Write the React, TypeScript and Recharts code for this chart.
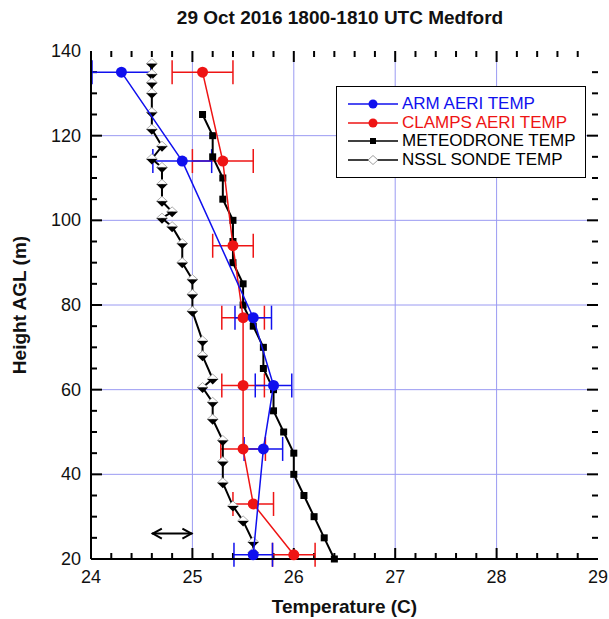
import {
  ScatterChart,
  Scatter,
  XAxis,
  YAxis,
  ErrorBar,
  ReferenceLine,
  Legend,
  Label,
} from "recharts";

const FONT = '"Liberation Sans", Arial, Helvetica, sans-serif';
const BLUE = "#1010ee";
const RED = "#ee1414";
const GRID = "#9a9af2";

// ARM AERI retrieval (temperature C, height m, +/- C)
const armTemp = [24.3, 24.9, 25.6, 25.8, 25.7, 25.6];
const armHeight = [135, 114, 77, 61, 46, 21];
const armErr = [0.29, 0.29, 0.18, 0.18, 0.19, 0.19];

// CLAMPS AERI retrieval
const clampsTemp = [25.1, 25.3, 25.4, 25.5, 25.5, 25.5, 25.6, 26.0];
const clampsHeight = [135, 114, 94, 77, 61, 46, 33, 21];
const clampsErr = [0.3, 0.3, 0.2, 0.21, 0.21, 0.22, 0.2, 0.21];

// meteodrone profile
const droneHeight = [125, 120, 115, 110, 105, 100, 95, 90, 85, 80, 75, 70, 65, 60, 55, 50, 45, 40, 35, 30, 25, 20];
const droneTemp = [25.1, 25.2, 25.2, 25.3, 25.3, 25.4, 25.4, 25.4, 25.5, 25.5, 25.6, 25.7, 25.7, 25.8, 25.8, 25.9, 26.0, 26.0, 26.1, 26.2, 26.3, 26.4];

// NSSL sonde profile
const sondeHeight = [137, 134.5, 132.5, 130, 125.5, 121.5, 117.5, 114.5, 112.5, 108.5, 104.5, 102, 100.5, 98.5, 94.5, 90, 86, 82.5, 78.5, 71.5, 68, 62.5, 60.5, 57, 53, 48, 43, 38, 32.5, 29, 24, 21.5];
const sondeTemp = [24.6, 24.6, 24.6, 24.6, 24.6, 24.6, 24.7, 24.6, 24.7, 24.7, 24.7, 24.8, 24.7, 24.8, 24.9, 24.9, 25.0, 25.0, 25.0, 25.1, 25.1, 25.2, 25.1, 25.2, 25.2, 25.3, 25.3, 25.3, 25.4, 25.5, 25.6, 25.6];

// axes
const tempTicks = [24, 25, 26, 27, 28, 29];
const tempMinorTicks = [24.2, 24.4, 24.6, 24.8, 25.2, 25.4, 25.6, 25.8, 26.2, 26.4, 26.6, 26.8, 27.2, 27.4, 27.6, 27.8, 28.2, 28.4, 28.6, 28.8];
const heightTicks = [20, 40, 60, 80, 100, 120, 140];
const heightMinorTicks = [25, 30, 35, 45, 50, 55, 65, 70, 75, 85, 90, 95, 105, 110, 115, 125, 130, 135];
const gridTemps = [25, 26, 27, 28];
const gridHeights = [40, 60, 80, 100, 120];

// the +/- arrow drawn near the bottom left
const arrowSpan = [24.6, 25.0];
const arrowHeight = 26;

const arm = armHeight.map((h, i) => ({ t: armTemp[i], h, err: armErr[i] }));
const clamps = clampsHeight.map((h, i) => ({ t: clampsTemp[i], h, err: clampsErr[i] }));
const drone = droneHeight.map((h, i) => ({ t: droneTemp[i], h }));
const sonde = sondeHeight.map((h, i) => ({ t: sondeTemp[i], h }));

const legendItems = [
  { name: "ARM AERI TEMP", color: BLUE, mark: "circle" },
  { name: "CLAMPS AERI TEMP", color: RED, mark: "circle" },
  { name: "METEODRONE TEMP", color: "#000", mark: "square" },
  { name: "NSSL SONDE TEMP", color: "#000", mark: "diamond" },
];

const AXIS_LINE = { stroke: "#000", strokeWidth: 2 };

function Dot({ cx, cy, fill }: any) {
  return <circle cx={cx} cy={cy} r={5.5} fill={fill} />;
}

function Square({ cx, cy }: any) {
  return <rect x={cx - 3.5} y={cy - 3.5} width={7} height={7} fill="#000" />;
}

function SondeMark({ cx, cy }: any) {
  return (
    <g>
      <path d={`M${cx - 5.5},${cy} L${cx},${cy - 5} L${cx + 5.5},${cy} Z`} fill="#fff" stroke="#999" strokeWidth={0.8} />
      <path d={`M${cx - 5.5},${cy} L${cx + 5.5},${cy} L${cx},${cy + 5.5} Z`} fill="#000" />
    </g>
  );
}

function DoubleArrow({ x1, y1, x2, y2 }: any) {
  return (
    <g stroke="#000" strokeWidth={2} fill="none">
      <line x1={x1} y1={y1} x2={x2} y2={y2} />
      <polyline points={`${x1 + 10},${y1 - 5} ${x1 + 1},${y1} ${x1 + 10},${y1 + 5}`} />
      <polyline points={`${x2 - 10},${y2 - 5} ${x2 - 1},${y2} ${x2 - 10},${y2 + 5}`} />
    </g>
  );
}

// a vertical reference line drawn as: optional grid line + inward ticks on the bottom and top frame
const vMark = (len: number, grid: boolean) => (p: any) => {
  const top = Math.min(p.y1, p.y2);
  const bot = Math.max(p.y1, p.y2);
  return (
    <g>
      {grid && <line x1={p.x1} y1={top} x2={p.x1} y2={bot} stroke={GRID} strokeWidth={1} />}
      <line x1={p.x1} y1={bot} x2={p.x1} y2={bot - len} stroke="#000" strokeWidth={2} />
      <line x1={p.x1} y1={top} x2={p.x1} y2={top + len} stroke="#000" strokeWidth={2} />
    </g>
  );
};

// same for horizontal lines: ticks on the left and right frame
const hMark = (len: number, grid: boolean) => (p: any) => {
  const left = Math.min(p.x1, p.x2);
  const right = Math.max(p.x1, p.x2);
  return (
    <g>
      {grid && <line x1={left} y1={p.y1} x2={right} y2={p.y1} stroke={GRID} strokeWidth={1} />}
      <line x1={left} y1={p.y1} x2={left + len} y2={p.y1} stroke="#000" strokeWidth={2} />
      <line x1={right} y1={p.y1} x2={right - len} y2={p.y1} stroke="#000" strokeWidth={2} />
    </g>
  );
};

function BottomLabel({ x, y, payload }: any) {
  return (
    <text x={x} y={y + 24} textAnchor="middle" fontSize={18} fontFamily={FONT} fill="#111">
      {payload.value}
    </text>
  );
}

function LeftLabel({ x, y, payload }: any) {
  return (
    <text x={x - 10} y={y + 6} textAnchor="end" fontSize={18} fontFamily={FONT} fill="#111">
      {payload.value}
    </text>
  );
}

function LegendMark({ mark, color }: { mark: string; color: string }) {
  return (
    <svg width={52} height={14} style={{ display: "block" }}>
      <line x1={1} y1={7} x2={51} y2={7} stroke={color} strokeWidth={1.5} />
      {mark === "circle" && <circle cx={26} cy={7} r={4.5} fill={color} />}
      {mark === "square" && <rect x={23} y={4} width={6} height={6} fill="#000" />}
      {mark === "diamond" && (
        <path d="M21,7 L26,2.5 L31,7 L26,11.5 Z" fill="#fff" stroke="#888" strokeWidth={0.8} />
      )}
    </svg>
  );
}

function LegendBox() {
  return (
    <div
      style={{
        border: "1.5px solid #000",
        background: "#fff",
        padding: "8px 4px 8px 10px",
        boxSizing: "border-box",
        width: 250,
      }}
    >
      {legendItems.map((it) => (
        <div key={it.name} style={{ display: "flex", alignItems: "center", height: 18.5 }}>
          <LegendMark mark={it.mark} color={it.color} />
          <span style={{ color: it.color, fontSize: 17, fontFamily: FONT, marginLeft: 3, whiteSpace: "nowrap" }}>
            {it.name}
          </span>
        </div>
      ))}
    </div>
  );
}

export default function App() {
  return (
    <div style={{ position: "absolute", left: 0, top: 0, width: 609, height: 619, background: "#fff" }}>
      <div
        style={{
          position: "absolute",
          left: 80,
          width: 520,
          top: 7,
          textAlign: "center",
          fontFamily: FONT,
          fontWeight: "bold",
          fontSize: 19,
          color: "#111",
        }}
      >
        29 Oct 2016 1800-1810 UTC Medford
      </div>
      <ScatterChart width={609} height={619} margin={{ top: 51, right: 11, bottom: 0, left: 0 }}>
        {gridTemps.map((v) => (
          <ReferenceLine key={`gx${v}`} x={v} shape={vMark(11, true)} />
        ))}
        {tempMinorTicks.map((v) => (
          <ReferenceLine key={`mx${v}`} x={v} shape={vMark(6, false)} />
        ))}
        {gridHeights.map((v) => (
          <ReferenceLine key={`gy${v}`} y={v} shape={hMark(11, true)} />
        ))}
        {heightMinorTicks.map((v) => (
          <ReferenceLine key={`my${v}`} y={v} shape={hMark(6, false)} />
        ))}

        <XAxis
          dataKey="t"
          type="number"
          domain={[24, 29]}
          ticks={tempTicks}
          interval={0}
          height={60}
          tickSize={0}
          tickMargin={0}
          tickLine={false}
          tick={BottomLabel}
          axisLine={AXIS_LINE}
        >
          <Label
            content={({ viewBox }: any) => (
              <text
                x={viewBox.x + viewBox.width / 2}
                y={viewBox.y + 54}
                textAnchor="middle"
                fontSize={19}
                fontWeight="bold"
                fontFamily={FONT}
                fill="#111"
              >
                Temperature (C)
              </text>
            )}
          />
        </XAxis>
        <XAxis
          xAxisId="top"
          orientation="top"
          type="number"
          domain={[24, 29]}
          allowDataOverflow
          height={0}
          tickLine={false}
          tick={false}
          axisLine={AXIS_LINE}
        />
        <YAxis
          dataKey="h"
          type="number"
          domain={[20, 140]}
          ticks={heightTicks}
          interval={0}
          width={91}
          tickSize={0}
          tickMargin={0}
          tickLine={false}
          tick={LeftLabel}
          axisLine={AXIS_LINE}
        >
          <Label
            content={({ viewBox }: any) => {
              const cx = viewBox.x + 26;
              const cy = viewBox.y + viewBox.height / 2;
              return (
                <text
                  x={cx}
                  y={cy}
                  transform={`rotate(-90 ${cx} ${cy})`}
                  textAnchor="middle"
                  fontSize={19}
                  fontWeight="bold"
                  fontFamily={FONT}
                  fill="#111"
                >
                  Height AGL (m)
                </text>
              );
            }}
          />
        </YAxis>
        <YAxis
          yAxisId="right"
          orientation="right"
          type="number"
          domain={[20, 140]}
          allowDataOverflow
          width={0}
          tickLine={false}
          tick={false}
          axisLine={AXIS_LINE}
        />

        <Scatter
          name="NSSL SONDE TEMP"
          data={sonde}
          line={{ stroke: "#000", strokeWidth: 2 }}
          lineJointType="linear"
          shape={<SondeMark />}
          isAnimationActive={false}
        />
        <Scatter
          name="METEODRONE TEMP"
          data={drone}
          line={{ stroke: "#000", strokeWidth: 2 }}
          lineJointType="linear"
          shape={<Square />}
          isAnimationActive={false}
        />
        <Scatter
          name="CLAMPS AERI TEMP"
          data={clamps}
          fill={RED}
          line={{ stroke: RED, strokeWidth: 1.5 }}
          lineJointType="linear"
          shape={<Dot />}
          isAnimationActive={false}
        >
          <ErrorBar dataKey="err" direction="x" width={12} stroke={RED} strokeWidth={1.5} isAnimationActive={false} />
        </Scatter>
        <Scatter
          name="ARM AERI TEMP"
          data={arm}
          fill={BLUE}
          line={{ stroke: BLUE, strokeWidth: 1.5 }}
          lineJointType="linear"
          shape={<Dot />}
          isAnimationActive={false}
        >
          <ErrorBar dataKey="err" direction="x" width={12} stroke={BLUE} strokeWidth={1.5} isAnimationActive={false} />
        </Scatter>

        <ReferenceLine
          segment={[
            { x: arrowSpan[0], y: arrowHeight },
            { x: arrowSpan[1], y: arrowHeight },
          ]}
          shape={<DoubleArrow />}
        />

        <Legend
          layout="vertical"
          align="center"
          verticalAlign="middle"
          content={<LegendBox />}
          wrapperStyle={{ position: "absolute", left: 336, top: 86, width: 250, height: "auto" }}
        />
      </ScatterChart>
    </div>
  );
}
